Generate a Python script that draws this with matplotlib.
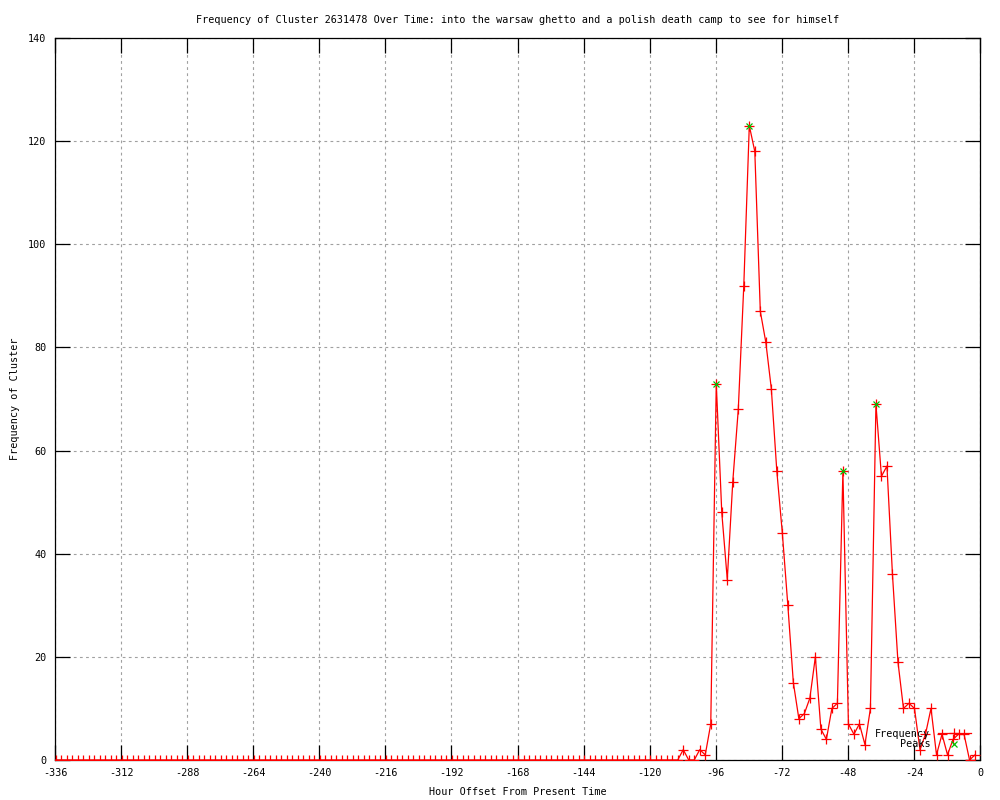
import numpy as np
import matplotlib
matplotlib.use("Agg")
import matplotlib.pyplot as plt

# ---- data ----
hours = np.arange(-335.8, 0, 2.0)  # sample times, every 2 hours
freq = [0] * 107 + [
    0, 0, 0, 0, 0, 0, 0, 2, 0, 0,
    2, 1, 7, 73, 48, 35, 54, 68, 92, 123,
    118, 87, 81, 72, 56, 44, 30, 15, 8, 9,
    12, 20, 6, 4, 10, 11, 56, 7, 5, 7,
    3, 10, 69, 55, 57, 36, 19, 10, 11, 10,
    2, 5, 10, 1, 5, 1, 4, 5, 5, 0, 1,
]
peak_hours = [-95.8, -83.8, -49.8, -37.8]
peak_vals = [73, 123, 56, 69]

xticks = list(range(-336, 1, 24))
yticks = list(range(0, 141, 20))

title = "Frequency of Cluster 2631478 Over Time: into the warsaw ghetto and a polish death camp to see for himself"

plt.rcParams['font.family'] = ['DejaVu Sans Mono']
plt.rcParams['axes.unicode_minus'] = False
FS = 7.3

fig = plt.figure(figsize=(10, 8), dpi=100)
ax = fig.add_axes([0.055, 0.05, 0.925, 0.9025])

ax.plot(hours, freq, color='#ff0000', lw=0.9, marker='+', ms=6.5, mew=0.9,
        label='Frequency', zorder=3)
ax.plot(peak_hours, peak_vals, ls='none', color='#00c000', marker='x', ms=5,
        mew=0.9, label='Peaks', zorder=4)

ax.set_xlim(-336, 0)
ax.set_ylim(0, 140)
ax.set_xticks(xticks)
ax.set_yticks(yticks)
ax.tick_params(direction='in', length=11, width=0.9, top=True, right=True,
               labelsize=FS, pad=6, color='black')
ax.grid(True, color='#a0a0a0', lw=0.8, ls=(0, (2.5, 3)))
for s in ax.spines.values():
    s.set_linewidth(0.9)

ax.set_title(title, fontsize=FS, pad=11)
ax.set_xlabel("Hour Offset From Present Time", fontsize=FS, labelpad=6)
ax.set_ylabel("Frequency of Cluster", fontsize=FS, labelpad=6)

leg = ax.legend(loc='lower right', bbox_to_anchor=(0.998, 0.005), frameon=False,
                markerfirst=False, fontsize=FS, handlelength=3.3,
                handletextpad=0.7, labelspacing=0.05, borderpad=0.2)

fig.savefig("out.png", dpi=100)
